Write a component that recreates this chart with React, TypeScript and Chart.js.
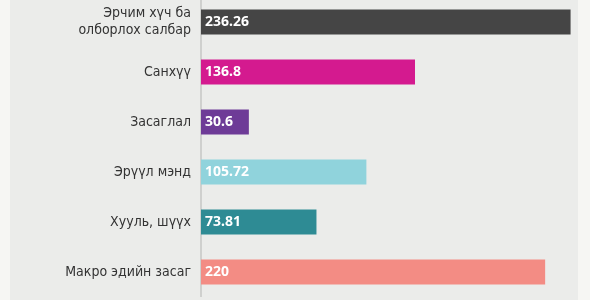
import React, { useEffect, useRef } from "react";
import { Chart, registerables } from "chart.js";

Chart.register(...registerables);

const categories: (string | string[])[] = [
  ["Эрчим хүч ба", "олборлох салбар"],
  "Санхүү",
  "Засаглал",
  "Эрүүл мэнд",
  "Хууль, шүүх",
  "Макро эдийн засаг",
];
const values: number[] = [236.26, 136.8, 30.6, 105.72, 73.81, 220];
const valueLabels: string[] = ["236.26", "136.8", "30.6", "105.72", "73.81", "220"];
const colors: string[] = ["#454545", "#d41a8f", "#6e3b97", "#90d3dc", "#2e8b94", "#f38c84"];

const valueLabelPlugin = {
  id: "valueLabels",
  afterDatasetsDraw(chart: any) {
    const ctx = chart.ctx;
    const meta = chart.getDatasetMeta(0);
    ctx.save();
    ctx.font = "bold 14px 'Noto Sans', 'Open Sans', sans-serif";
    ctx.fillStyle = "#ffffff";
    ctx.textAlign = "left";
    ctx.textBaseline = "middle";
    meta.data.forEach((bar: any, i: number) => {
      ctx.fillText(valueLabels[i], bar.base + 4, bar.y);
    });
    ctx.restore();
  },
};

export default function App() {
  const ref = useRef<HTMLCanvasElement | null>(null);
  useEffect(() => {
    if (!ref.current) return;
    const chart = new Chart(ref.current, {
      type: "bar",
      data: {
        labels: categories,
        datasets: [
          {
            data: values,
            backgroundColor: colors,
            borderWidth: 0,
            barPercentage: 1,
            categoryPercentage: 0.5,
          },
        ],
      },
      options: {
        indexAxis: "y",
        animation: false,
        responsive: false,
        maintainAspectRatio: false,
        layout: { padding: 0 },
        plugins: { legend: { display: false }, tooltip: { enabled: false } },
        scales: {
          x: { display: false, min: 0, max: 241 },
          y: {
            afterFit(scale: any) {
              scale.width = 191;
              scale.paddingTop = 0;
              scale.paddingBottom = 0;
            },
            grid: { display: true, drawOnChartArea: false, drawTicks: false },
            border: { display: true, color: "#cfd0ce", width: 2 },
            ticks: {
              padding: 10,
              color: "#333333",
              font: { family: "'Liberation Sans Narrow', 'DejaVu Sans Condensed', sans-serif", size: 14 },
            },
          },
        },
      },
      plugins: [valueLabelPlugin],
    });
    return () => chart.destroy();
  }, []);

  return (
    <div style={{ position: "fixed", left: 0, top: 0, width: 590, height: 300, background: "#f6f6f3", overflow: "hidden" }}>
      <div style={{ position: "absolute", left: 10, top: 0, width: 568, height: 300, background: "#ebecea" }}>
        <canvas ref={ref} width={568} height={300} style={{ position: "absolute", left: 0, top: -3, width: 568, height: 300 }} />
      </div>
    </div>
  );
}
